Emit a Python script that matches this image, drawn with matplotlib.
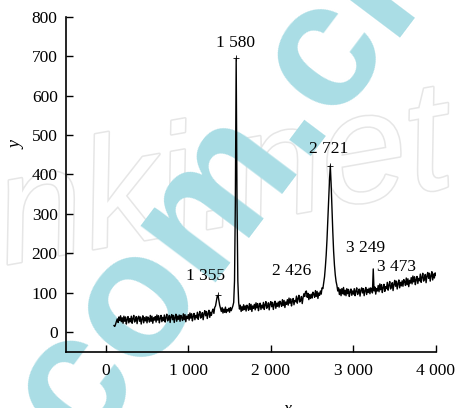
import matplotlib
matplotlib.use("Agg")
import matplotlib.pyplot as plt
import matplotlib.patheffects as pe

# ---- data (Raman shift / intensity) ----
wavenumber = list(range(100, 4001, 10))
intensity = [
    16, 14, 20, 27, 33, 24, 38, 29, 41, 26,          # 100
    36, 22, 40, 27, 38, 20, 32, 39, 23, 34,          # 200
    26, 40, 22, 34, 42, 25, 30, 39, 21, 36,          # 300
    40, 27, 38, 20, 33, 41, 23, 36, 28, 39,          # 400
    23, 38, 33, 25, 42, 27, 40, 22, 36, 30,          # 500
    39, 25, 43, 30, 41, 23, 35, 42, 26, 37,          # 600
    29, 43, 25, 37, 45, 28, 33, 42, 24, 39,          # 700
    44, 31, 42, 24, 37, 45, 27, 40, 32, 43,          # 800
    27, 42, 37, 29, 46, 31, 44, 26, 40, 34,          # 900
    44, 30, 48, 35, 46, 28, 40, 47, 31, 42,          # 1000
    36, 50, 32, 44, 52, 35, 40, 49, 31, 46,          # 1100
    54, 41, 52, 34, 47, 55, 37, 50, 42, 53,          # 1200
    58, 47, 62, 66, 78, 90, 93, 80, 68, 60,          # 1300
    52, 62, 48, 58, 50, 63, 49, 57, 53, 60,          # 1400
    50, 62, 54, 60, 66, 75, 130, 330, 695, 330,      # 1500
    130, 75, 58, 68, 52, 64, 55, 69, 57, 66,         # 1600
    53, 68, 63, 55, 72, 57, 70, 52, 66, 60,          # 1700
    70, 56, 74, 61, 72, 54, 66, 73, 57, 68,          # 1800
    61, 75, 57, 69, 77, 60, 65, 74, 56, 71,          # 1900
    77, 64, 75, 57, 70, 78, 60, 73, 65, 76,          # 2000
    63, 78, 73, 65, 82, 67, 80, 62, 76, 70,          # 2100
    82, 68, 86, 73, 84, 66, 78, 85, 69, 80,          # 2200
    77, 91, 73, 85, 93, 76, 81, 90, 72, 87,          # 2300
    97, 90, 102, 104, 88, 98, 82, 95, 85, 96,        # 2400
    86, 101, 96, 88, 105, 90, 103, 85, 99, 93,       # 2500
    104, 96, 112, 110, 125, 140, 165, 195, 235, 285,  # 2600
    335, 385, 422, 375, 315, 255, 205, 170, 145, 128,  # 2700
    118, 104, 112, 95, 108, 92, 110, 97, 113, 94,    # 2800
    106, 92, 110, 97, 108, 90, 102, 109, 93, 104,    # 2900
    96, 110, 92, 104, 112, 95, 100, 109, 91, 106,    # 3000
    112, 99, 110, 92, 105, 113, 95, 108, 100, 111,   # 3100
    97, 112, 107, 99, 160, 104, 114, 96, 110, 104,   # 3200
    118, 102, 122, 107, 120, 100, 113, 121, 103, 115,  # 3300
    110, 126, 106, 119, 128, 109, 115, 125, 105, 121,  # 3400
    131, 116, 129, 109, 123, 132, 112, 126, 117, 130,  # 3500
    116, 133, 128, 118, 137, 120, 135, 115, 131, 124,  # 3600
    138, 122, 142, 127, 140, 120, 133, 141, 123, 136,  # 3700
    130, 147, 126, 139, 149, 129, 135, 146, 125, 142,  # 3800
    151, 136, 149, 129, 143, 153, 132, 147, 137, 150,  # 3900
    144,                                             # 4000
]

peak_labels = ["1 355", "1 580", "2 426", "2 721", "3 249", "3 473"]
peak_label_x = [1210, 1570, 2250, 2700, 3150, 3520]
peak_label_y = [142, 735, 155, 465, 212, 165]

marker_x = [1360, 1580, 2720]
marker_y = [93, 695, 422]

x_ticks = [0, 1000, 2000, 3000, 4000]
x_tick_labels = ["0", "1 000", "2 000", "3 000", "4 000"]
y_ticks = [0, 100, 200, 300, 400, 500, 600, 700, 800]

# ---- figure ----
W, H = 456, 408
fig = plt.figure(figsize=(W / 100, H / 100), dpi=100)

# watermarks (drawn behind the axes)
fig.text(224 / W, 1 - 185 / H, "nki.net", fontsize=112, rotation=10,
         family="Liberation Sans", style="italic", color="white",
         ha="center", va="center", zorder=0,
         path_effects=[pe.Stroke(linewidth=2.2, foreground="#e6e6e6"), pe.Normal()])
fig.text(232 / W, 1 - 175 / H, "com.cn", fontsize=128, rotation=53,
         family="Liberation Sans", weight="bold", color="#aadde5",
         ha="center", va="center", zorder=1)

ax = fig.add_axes([66 / W, 1 - 352 / H, (436 - 66) / W, (352 - 17) / H])
ax.set_zorder(2)
ax.patch.set_alpha(0)

serif = "Liberation Serif"
ax.plot(wavenumber, intensity, color="black", lw=1.0)
ax.plot(marker_x, marker_y, ls="none", marker="+", ms=4, mew=0.6, color="black")

for lab, lx, ly in zip(peak_labels, peak_label_x, peak_label_y):
    ax.text(lx, ly, lab, fontsize=12.5, family=serif, ha="center", va="center")

ax.set_xlim(-481, 4000)
ax.set_ylim(-51, 800)
ax.set_xticks(x_ticks)
ax.set_xticklabels(x_tick_labels, family=serif, fontsize=12.5)
ax.set_yticks(y_ticks)
ax.set_yticklabels([str(v) for v in y_ticks], family=serif, fontsize=12.5)
ax.tick_params(direction="in", length=5, width=1, pad=8)
ax.tick_params(axis="y", pad=6)

for s in ["top", "right"]:
    ax.spines[s].set_visible(False)
for s in ["left", "bottom"]:
    ax.spines[s].set_linewidth(1.2)

fig.text(17 / W, 1 - 145 / H, "y", fontsize=13, family=serif, style="italic",
         rotation=90, ha="center", va="center")
fig.text(287 / W, 1 - 410 / H, "x", fontsize=13, family=serif, style="italic",
         ha="center", va="center")

fig.savefig("out.png", dpi=100)
